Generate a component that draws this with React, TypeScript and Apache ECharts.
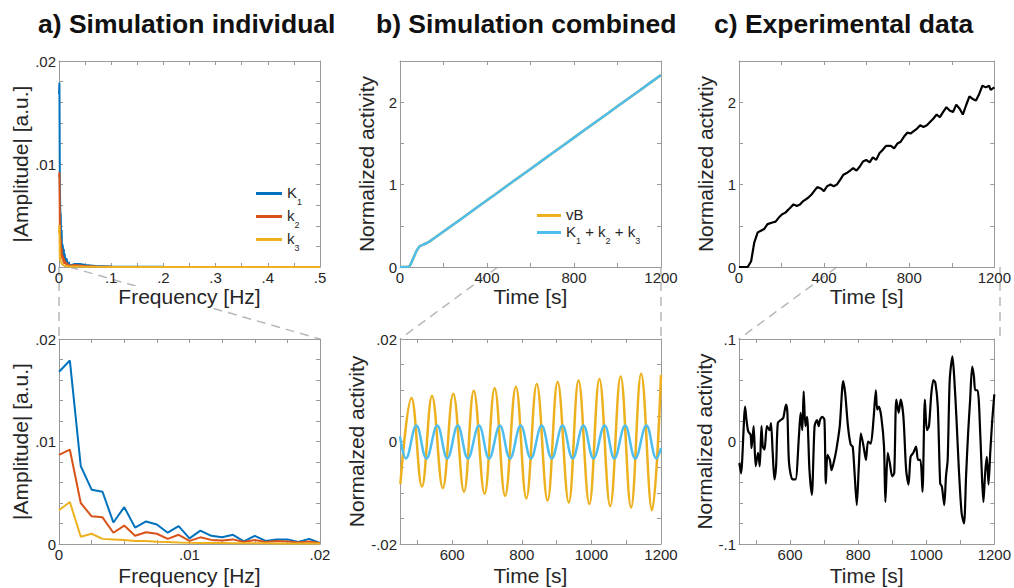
import React, { useEffect, useRef } from 'react';
import * as echarts from 'echarts';

const FONT = '"Liberation Sans", Arial, Helvetica, sans-serif';
const TXT = '#262626';
const AX = '#9a9a9a';

// ---------- a) Simulation individual ----------
const freqZoom = [0, 0.000833, 0.001667, 0.0025, 0.003333, 0.004167, 0.005, 0.005833, 0.006667, 0.0075, 0.008333, 0.009167, 0.01, 0.010833, 0.011667, 0.0125, 0.013333, 0.014167, 0.015, 0.015833, 0.016667, 0.0175, 0.018333, 0.019167, 0.02];
const ampK1 = [0.0168, 0.0179, 0.0076, 0.0053, 0.0051, 0.0021, 0.0036, 0.0016, 0.0022, 0.0019, 0.0011, 0.00175, 0.00055, 0.0013, 0.0008, 0.00065, 0.0009, 0.00025, 0.0008, 0.0003, 0.00045, 0.00045, 0.0002, 0.0005, 0.0001];
const ampK2 = [0.0087, 0.0092, 0.004, 0.0027, 0.0026, 0.0011, 0.0018, 0.0008, 0.00115, 0.001, 0.0005, 0.0009, 0.0003, 0.00065, 0.0004, 0.00035, 0.00045, 0.0002, 0.0004, 0.0002, 0.0003, 0.00025, 0.00015, 0.00025, 0.0001];
const ampK3 = [0.0033, 0.0041, 0.0007, 0.001, 0.0005, 0.00045, 0.0004, 0.0003, 0.0003, 0.00022, 0.0002, 0.00015, 0.00012, 0.0001, 0.0001, 0.0001, 0.00008, 0.00008, 0.00007, 0.00007, 0.00006, 0.00006, 0.00005, 0.00005, 0.00005];
const freqTail = [0.03, 0.04, 0.05, 0.07, 0.1, 0.2, 0.3, 0.4, 0.5];
const ampK1Tail = [0.0003, 0.0003, 0.0002, 0.0001, 0.00005, 0.00002, 0.00001, 0.00001, 0.00001];
const ampK2Tail = [0.0002, 0.00015, 0.0001, 0.00005, 0.00003, 0.00001, 0.00001, 0.00001, 0.00001];
const ampK3Tail = [0.00005, 0.00004, 0.00003, 0.00002, 0.00001, 0.00001, 0.00001, 0.00001, 0.00001];

// ---------- b) Simulation combined ----------
const timeComb = [0, 30, 45, 60, 75, 90, 110, 130, 200, 300, 400, 500, 600, 700, 800, 900, 1000, 1100, 1200];
const combVB = [0, 0, 0.016, 0.1, 0.19, 0.25, 0.275, 0.3, 0.43, 0.62, 0.81, 1.0, 1.19, 1.38, 1.57, 1.76, 1.95, 2.14, 2.33];
const combSum = [0, 0, 0.016, 0.1, 0.19, 0.25, 0.275, 0.3, 0.43, 0.62, 0.81, 1.0, 1.19, 1.38, 1.57, 1.76, 1.95, 2.14, 2.33];

const timeVBZoom = [451, 483, 513, 542, 573, 603, 634, 662, 693, 722, 752, 783, 813, 843, 874, 903, 935, 963, 994, 1023, 1054, 1084, 1114, 1143, 1174, 1200];
const vBZoom = [-0.0083, 0.0085, -0.0088, 0.0089, -0.0091, 0.0093, -0.0098, 0.0099, -0.0102, 0.0104, -0.0106, 0.0107, -0.0111, 0.0112, -0.0115, 0.0116, -0.0119, 0.0119, -0.0122, 0.0122, -0.0126, 0.0127, -0.0129, 0.0132, -0.0134, 0.013];
const timeSumZoom = [450, 467, 497, 526, 557, 586, 616, 645, 677, 706, 737, 766, 797, 826, 857, 886, 917, 946, 977, 1006, 1038, 1066, 1097, 1126, 1158, 1187, 1200];
const sumZoom = [0.001, -0.0033, 0.0031, -0.0033, 0.0031, -0.0033, 0.0031, -0.0033, 0.0031, -0.0033, 0.0031, -0.0033, 0.0031, -0.0033, 0.0031, -0.0033, 0.0031, -0.0033, 0.0031, -0.0033, 0.0031, -0.0033, 0.0031, -0.0033, 0.0031, -0.0033, -0.0013];

// ---------- c) Experimental data ----------
const timeExp = [0, 41, 57, 72, 88, 103, 118, 134, 157, 172, 187, 203, 218, 241, 256, 272, 287, 302, 325, 341, 353, 368, 387, 399, 414, 430, 445, 460, 476, 491, 506, 522, 537, 552, 568, 583, 598, 614, 629, 645, 660, 675, 691, 714, 729, 745, 760, 775, 791, 806, 821, 837, 852, 867, 883, 898, 913, 929, 944, 959, 975, 990, 1006, 1021, 1037, 1052, 1067, 1083, 1098, 1114, 1129, 1144, 1160, 1175, 1183, 1200];
const actExp = [0, 0, 0.07, 0.3, 0.42, 0.44, 0.46, 0.52, 0.54, 0.55, 0.6, 0.64, 0.66, 0.72, 0.76, 0.74, 0.76, 0.8, 0.84, 0.88, 0.92, 0.97, 0.95, 0.92, 0.98, 1.0, 0.98, 1.0, 1.06, 1.12, 1.14, 1.17, 1.2, 1.17, 1.22, 1.28, 1.3, 1.27, 1.33, 1.3, 1.38, 1.42, 1.47, 1.47, 1.44, 1.5, 1.52, 1.58, 1.63, 1.62, 1.65, 1.68, 1.72, 1.7, 1.72, 1.76, 1.8, 1.85, 1.82, 1.88, 1.94, 1.9, 1.88, 1.97, 1.92, 1.85, 1.96, 2.07, 2.04, 2.02, 2.1, 2.2, 2.18, 2.2, 2.15, 2.18];

const timeExpZoom = [451, 456, 468, 472, 477, 484, 487, 493, 499, 506, 511, 516, 520, 525, 532, 540, 544, 549, 554, 559, 564, 573, 580, 588, 592, 597, 607, 616, 626, 631, 636, 640, 645, 650, 657, 664, 672, 679, 684, 688, 695, 701, 705, 710, 717, 722, 730, 736, 746, 756, 762, 770, 778, 784, 789, 796, 802, 808, 816, 823, 829, 837, 845, 852, 856, 861, 868, 876, 880, 887, 893, 900, 906, 912, 919, 925, 933, 941, 948, 954, 962, 970, 976, 983, 989, 996, 1002, 1008, 1015, 1021, 1027, 1034, 1041, 1046, 1053, 1058, 1063, 1069, 1077, 1082, 1089, 1096, 1104, 1111, 1117, 1123, 1129, 1135, 1140, 1144, 1151, 1159, 1164, 1168, 1173, 1178, 1183, 1188, 1194, 1200];
const actExpZoom = [-0.021, -0.031, 0.034, 0.021, 0.01, 0.0065, -0.0065, 0.015, -0.024, -0.011, -0.024, 0.015, -0.005, -0.008, 0.015, 0.011, 0.018, -0.011, -0.037, -0.024, 0.018, 0.021, 0.023, 0.036, 0.029, -0.021, -0.037, -0.037, 0.005, 0.028, 0.011, 0.049, 0.015, 0.024, -0.028, -0.052, 0.015, 0.021, 0.015, 0.021, 0.024, 0.021, -0.041, -0.013, -0.018, -0.028, -0.018, -0.008, 0.015, 0.059, 0.047, 0.015, -0.003, -0.005, -0.028, -0.062, -0.024, 0.008, -0.005, -0.018, 0, -0.002, 0.021, 0.05, 0.031, 0.034, 0.024, -0.005, -0.059, -0.011, -0.021, -0.034, -0.031, 0.041, 0.028, 0.041, 0.024, -0.028, -0.042, -0.015, -0.011, -0.005, -0.018, -0.018, -0.049, 0.041, 0.011, 0.015, 0.047, 0.06, 0.057, 0.034, -0.041, -0.044, -0.062, -0.034, -0.018, 0.06, 0.083, 0.064, 0.021, -0.028, -0.07, -0.08, -0.034, 0.008, 0.041, 0.073, 0.064, 0.05, 0.05, 0.005, -0.037, -0.059, -0.031, -0.015, -0.042, -0.011, 0.021, 0.046];

// ---------- ticks ----------
const ticksFreqWide = [0, 0.05, 0.1, 0.15, 0.2, 0.25, 0.3, 0.35, 0.4, 0.45, 0.5];
const labelsFreqWide = [0, 0.1, 0.2, 0.3, 0.4, 0.5];
const ticksFreqZoom = [0, 0.0025, 0.005, 0.0075, 0.01, 0.0125, 0.015, 0.0175, 0.02];
const labelsFreqZoom = [0, 0.01, 0.02];
const ticksAmp = [0, 0.002, 0.004, 0.006, 0.008, 0.01, 0.012, 0.014, 0.016, 0.018, 0.02];
const labelsAmp = [0, 0.01, 0.02];
const ticksTime = [0, 200, 400, 600, 800, 1000, 1200];
const labelsTime = [0, 400, 800, 1200];
const ticksAct = [0, 0.5, 1, 1.5, 2, 2.5];
const labelsAct = [0, 1, 2];
const ticksTimeZoom = [500, 600, 700, 800, 900, 1000, 1100, 1200];
const labelsTimeZoom = [600, 800, 1000, 1200];
const ticksSimZoom = [-0.02, -0.015, -0.01, -0.005, 0, 0.005, 0.01, 0.015, 0.02];
const labelsSimZoom = [-0.02, 0, 0.02];
const ticksExpZoom = [-0.1, -0.08, -0.06, -0.04, -0.02, 0, 0.02, 0.04, 0.06, 0.08, 0.1];
const labelsExpZoom = [-0.1, 0, 0.1];

const C_K1 = '#0072BD';
const C_K2 = '#D95319';
const C_K3 = '#EDB120';
const C_SUM = '#4DBEEE';

const fmt = (v: number) => {
  if (Math.abs(v) < 1e-12) return '0';
  const s = String(parseFloat(v.toFixed(5)));
  return s.replace(/^(-?)0\./, '$1.');
};

const pairs = (xs: number[], ys: number[]) => xs.map((x, i) => [x, ys[i]]);

const COLS = [59, 400, 739];
const PW = 261;
const ROWS = [61, 339];
const PH = [206, 205];

type PanelSpec = {
  xMin: number; xMax: number; xTicks: number[]; xLabels: number[]; xName: string;
  yMin: number; yMax: number; yTicks: number[]; yLabels: number[]; yName: string;
  xGap: number;
};

function buildAxes(specs: PanelSpec[]) {
  const xAxis: any[] = [];
  const yAxis: any[] = [];
  specs.forEach((s, gi) => {
    const line = { show: true, onZero: false, lineStyle: { color: AX, width: 1 } };
    const tick = (vals: number[]) => ({ show: true, inside: true, length: 4, lineStyle: { color: AX }, customValues: vals });
    const lab = (vals: number[], margin: number) => ({
      show: true, customValues: vals, formatter: fmt, fontSize: 15, color: TXT, fontFamily: FONT, margin,
    });
    xAxis.push({
      type: 'value', gridIndex: gi, position: 'bottom', min: s.xMin, max: s.xMax,
      axisLine: line, axisTick: tick(s.xTicks), axisLabel: lab(s.xLabels, 3), splitLine: { show: false },
      name: s.xName, nameLocation: 'middle', nameGap: s.xGap,
      nameTextStyle: { fontSize: 21, color: TXT, fontFamily: FONT, backgroundColor: '#fff' },
    });
    xAxis.push({
      type: 'value', gridIndex: gi, position: 'top', min: s.xMin, max: s.xMax,
      axisLine: line, axisTick: tick(s.xTicks), axisLabel: { show: false }, splitLine: { show: false },
    });
    yAxis.push({
      type: 'value', gridIndex: gi, position: 'left', min: s.yMin, max: s.yMax,
      axisLine: line, axisTick: tick(s.yTicks), axisLabel: lab(s.yLabels, 3), splitLine: { show: false },
      name: s.yName, nameLocation: 'middle', nameRotate: 90, nameGap: 23,
      nameTextStyle: { fontSize: 21, color: TXT, fontFamily: FONT },
    });
    yAxis.push({
      type: 'value', gridIndex: gi, position: 'right', min: s.yMin, max: s.yMax,
      axisLine: line, axisTick: tick(s.yTicks), axisLabel: { show: false }, splitLine: { show: false },
    });
  });
  return { xAxis, yAxis };
}

const legendRich = {
  a: { fontSize: 15, lineHeight: 17, color: TXT, fontFamily: FONT, verticalAlign: 'top' },
  b: { fontSize: 9, lineHeight: 9, color: TXT, fontFamily: FONT, verticalAlign: 'top', padding: [12, 0, 0, 0] },
};
const legendFmt = (name: string) => {
  if (name === 'K1') return '{a|K}{b|1}';
  if (name === 'k2') return '{a|k}{b|2}';
  if (name === 'k3') return '{a|k}{b|3}';
  if (name === 'K1 + k2 + k3') return '{a|K}{b|1}{a| + k}{b|2}{a| + k}{b|3}';
  return '{a|' + name + '}';
};

function line(name: string, color: string, data: number[][], xi: number, yi: number, width = 2, smooth: any = false) {
  return {
    type: 'line', name, data, xAxisIndex: xi, yAxisIndex: yi, showSymbol: false, symbol: 'none',
    smooth, lineStyle: { color, width }, itemStyle: { color }, clip: true, silent: true,
  };
}

function dash(x1: number, y1: number, x2: number, y2: number) {
  return {
    type: 'line', z: -10, silent: true,
    shape: { x1, y1, x2, y2 },
    style: { stroke: '#b8b8b8', lineWidth: 1.5, lineDash: [9, 6] },
  };
}

export default function App() {
  const ref = useRef<HTMLDivElement>(null);
  useEffect(() => {
    if (!ref.current) return;
    const chart = echarts.init(ref.current, undefined, { renderer: 'svg' });

    const specs: PanelSpec[] = [
      { xMin: 0, xMax: 0.5, xTicks: ticksFreqWide, xLabels: labelsFreqWide, xName: 'Frequency [Hz]', yMin: 0, yMax: 0.02, yTicks: ticksAmp, yLabels: labelsAmp, yName: '|Amplitude| [a.u.]', xGap: 18 },
      { xMin: 0, xMax: 1200, xTicks: ticksTime, xLabels: labelsTime, xName: 'Time [s]', yMin: 0, yMax: 2.5, yTicks: ticksAct, yLabels: labelsAct, yName: 'Normalized activity', xGap: 18 },
      { xMin: 0, xMax: 1200, xTicks: ticksTime, xLabels: labelsTime, xName: 'Time [s]', yMin: 0, yMax: 2.5, yTicks: ticksAct, yLabels: labelsAct, yName: 'Normalized activtiy', xGap: 18 },
      { xMin: 0, xMax: 0.02, xTicks: ticksFreqZoom, xLabels: labelsFreqZoom, xName: 'Frequency [Hz]', yMin: 0, yMax: 0.02, yTicks: ticksAmp, yLabels: labelsAmp, yName: '|Amplitude| [a.u.]', xGap: 21 },
      { xMin: 450, xMax: 1200, xTicks: ticksTimeZoom, xLabels: labelsTimeZoom, xName: 'Time [s]', yMin: -0.02, yMax: 0.02, yTicks: ticksSimZoom, yLabels: labelsSimZoom, yName: 'Normalzed activity', xGap: 21 },
      { xMin: 450, xMax: 1200, xTicks: ticksTimeZoom, xLabels: labelsTimeZoom, xName: 'Time [s]', yMin: -0.1, yMax: 0.1, yTicks: ticksExpZoom, yLabels: labelsExpZoom, yName: 'Normalized activity', xGap: 21 },
    ];
    const grids = specs.map((_, i) => ({
      left: COLS[i % 3], top: ROWS[Math.floor(i / 3)], width: PW, height: PH[Math.floor(i / 3)],
      containLabel: false,
    }));
    const { xAxis, yAxis } = buildAxes(specs);

    const wideK1 = pairs(freqZoom.concat(freqTail), ampK1.concat(ampK1Tail));
    const wideK2 = pairs(freqZoom.concat(freqTail), ampK2.concat(ampK2Tail));
    const wideK3 = pairs(freqZoom.concat(freqTail), ampK3.concat(ampK3Tail));

    const series = [
      line('K1', C_K1, wideK1, 0, 0),
      line('k2', C_K2, wideK2, 0, 0),
      line('k3', C_K3, wideK3, 0, 0),
      line('vB', C_K3, pairs(timeComb, combVB), 2, 2, 2.5, 0.3),
      line('K1 + k2 + k3', C_SUM, pairs(timeComb, combSum), 2, 2, 2.5, 0.3),
      line('exp', '#000', pairs(timeExp, actExp), 4, 4, 2.2, false),
      line('K1', C_K1, pairs(freqZoom, ampK1), 6, 6, 2),
      line('k2', C_K2, pairs(freqZoom, ampK2), 6, 6, 2),
      line('k3', C_K3, pairs(freqZoom, ampK3), 6, 6, 2),
      line('vB', C_K3, pairs(timeVBZoom, vBZoom), 8, 8, 2.5, 0.4),
      line('K1 + k2 + k3', C_SUM, pairs(timeSumZoom, sumZoom), 8, 8, 2.5, 0.4),
      line('expZoom', '#000', pairs(timeExpZoom, actExpZoom), 10, 10, 2.2, 0.25),
    ];

    const titleStyle = { fontSize: 26.5, fontWeight: 'bold', fontFamily: FONT, color: '#111' };

    chart.setOption({
      animation: false,
      backgroundColor: '#fff',
      title: [
        { text: 'a) Simulation individual', left: 38, top: 10, padding: 0, textStyle: titleStyle },
        { text: 'b) Simulation combined', left: 376, top: 10, padding: 0, textStyle: titleStyle },
        { text: 'c) Experimental data', left: 714, top: 10, padding: 0, textStyle: titleStyle },
      ],
      legend: [
        {
          data: ['K1', 'k2', 'k3'], orient: 'vertical', left: 256, top: 185, padding: 0,
          itemWidth: 26, itemHeight: 3, itemGap: 2, icon: 'rect', selectedMode: false,
          formatter: legendFmt, textStyle: { rich: legendRich },
        },
        {
          data: ['vB', 'K1 + k2 + k3'], orient: 'vertical', left: 537, top: 207, padding: 0,
          itemWidth: 24, itemHeight: 3, itemGap: 2, icon: 'rect', selectedMode: false,
          formatter: legendFmt, textStyle: { rich: legendRich },
        },
      ],
      grid: grids,
      xAxis,
      yAxis,
      series,
      graphic: [
        dash(COLS[0], ROWS[0] + PH[0], COLS[0], ROWS[1]),
        dash(COLS[0] + (0.02 / 0.5) * PW, ROWS[0] + PH[0], COLS[0] + PW, ROWS[1]),
        dash(COLS[1] + (450 / 1200) * PW, ROWS[0] + PH[0], COLS[1], ROWS[1]),
        dash(COLS[1] + PW, ROWS[0] + PH[0], COLS[1] + PW, ROWS[1]),
        dash(COLS[2] + (450 / 1200) * PW, ROWS[0] + PH[0], COLS[2], ROWS[1]),
        dash(COLS[2] + PW, ROWS[0] + PH[0], COLS[2] + PW, ROWS[1]),
      ],
    });
    return () => chart.dispose();
  }, []);

  return (
    <div style={{ position: 'fixed', left: 0, top: 0, width: 1014, height: 588, background: '#fff' }}>
      <div ref={ref} style={{ width: 1014, height: 588 }} />
    </div>
  );
}
